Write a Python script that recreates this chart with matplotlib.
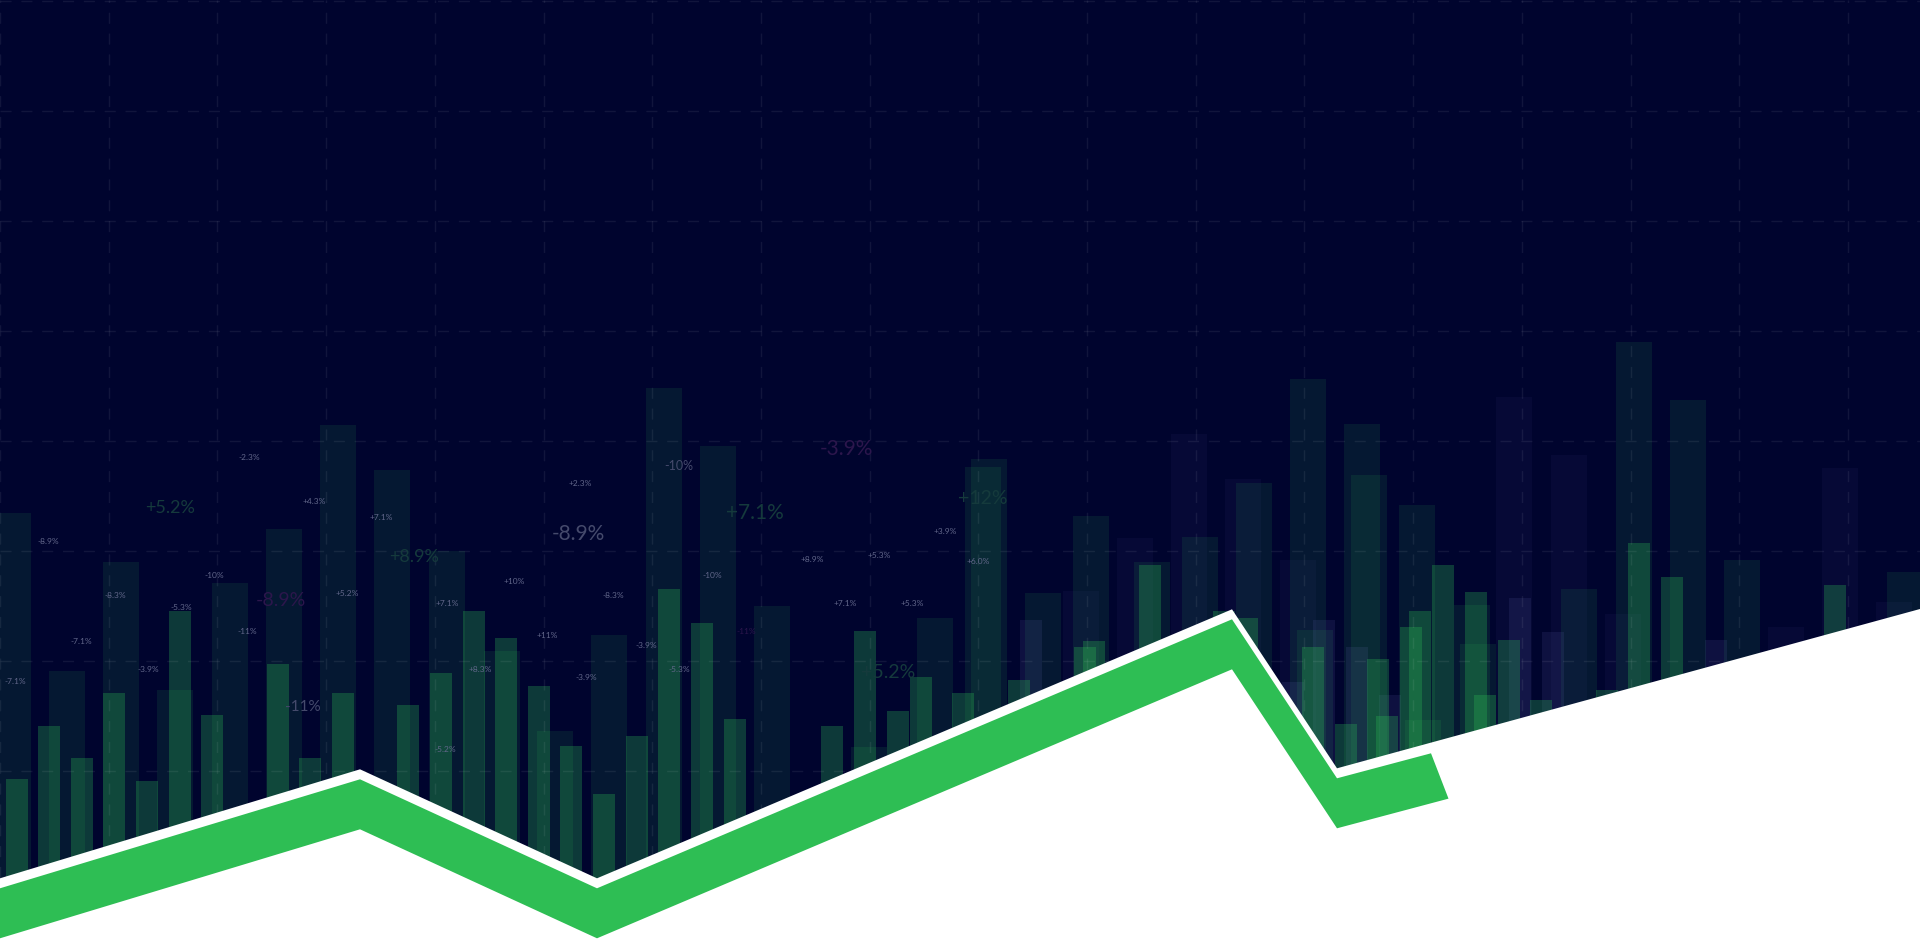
import numpy as np
import matplotlib
matplotlib.use("Agg")
import matplotlib.pyplot as plt
from matplotlib.patches import Polygon

# ---------------- data ----------------
# tall faint green bars (left edge, value)
teal_x = [-5, 49, 103, 157, 212, 266, 320, 374, 429, 484, 537, 591, 646, 700, 754,
          851, 917, 965, 971, 1025, 1073, 1134, 1182, 1236, 1290, 1297, 1344, 1351,
          1399, 1405, 1454, 1460, 1561, 1616, 1670, 1724, 1887]
teal_h = [427, 269, 378, 250, 357, 411, 515, 470, 389, 289, 209, 305, 552, 494, 334,
          193, 322, 473, 481, 347, 424, 378, 403, 457, 561, 310, 516, 465,
          435, 220, 335, 296, 351, 598, 540, 380, 368]

# brighter narrow green bars
green_x = [6, 38, 71, 103, 136, 169, 201, 267, 299, 332, 397, 430, 463, 495, 528, 560,
           593, 626, 658, 691, 724, 821, 854, 887, 910, 952, 1008, 1074, 1083, 1139,
           1213, 1236, 1302, 1335, 1367, 1376, 1400, 1409, 1432, 1465, 1474, 1498,
           1530, 1596, 1628, 1661, 1824]
green_h = [161, 214, 182, 247, 159, 329, 225, 276, 182, 247, 235, 267, 329, 302, 254, 194,
           146, 204, 351, 317, 221, 214, 309, 229, 263, 247, 260, 293, 299, 375,
           329, 322, 293, 216, 281, 224, 313, 329, 375, 348, 245, 300,
           240, 250, 397, 363, 355]

# wide faint purple bars
purple_x = [1063, 1117, 1171, 1225, 1280, 1496, 1551, 1605, 1768, 1822, 1876]
purple_h = [349, 402, 506, 461, 380, 543, 485, 326, 313, 472, 338]

# narrow lighter purple bars
lilac_x = [1020, 1282, 1313, 1346, 1379, 1509, 1542, 1705]
lilac_h = [320, 258, 320, 293, 245, 342, 308, 300]

# trend line (top edge of the green band)
line_x = [0, 360, 597, 1232, 1337, 1431]
line_y = [51.7, 160.7, 51.7, 320.7, 161.7, 186.7]
white_end_x = 1920
white_end_y = 331

# percentage labels
small_txt = ["-8.9%", "-2.3%", "+4.3%", "+7.1%", "-10%", "-8.3%", "-5.3%", "+5.2%", "+7.1%",
             "-7.1%", "-11%", "-7.1%", "-3.9%", "-5.2%", "+8.3%", "+2.3%", "+3.9%", "+8.9%",
             "+5.3%", "+10%", "-8.3%", "-10%", "+7.1%", "+5.3%", "+11%", "-3.9%", "-3.9%",
             "-5.3%", "+6.0%"]
small_x = [48, 249, 314, 381, 214, 115, 181, 347, 447, 81, 247, 15, 148, 445, 480, 580, 945,
           812, 879, 514, 613, 712, 845, 912, 547, 646, 586, 679, 978]
small_y = [399, 482, 438, 423, 365, 345, 332, 347, 337, 299, 308, 259, 270, 191, 270, 456,
           408, 380, 385, 359, 345, 365, 337, 336, 304, 294, 263, 270, 378]

gray_txt = ["-10%", "-8.9%", "-11%"]
gray_x = [679, 578, 303]
gray_y = [474, 406, 233]
gray_size = [9, 15, 11]

greenlab_txt = ["+5.2%", "+8.9%", "+7.1%", "+12%", "+5.2%"]
greenlab_x = [170, 414, 755, 983, 888]
greenlab_y = [432, 383, 427, 441, 267]
greenlab_size = [13, 13, 15, 14, 14]

purplab_txt = ["-8.9%", "-3.9%", "-11%"]
purplab_x = [281, 846, 746]
purplab_y = [340, 491, 308]
purplab_size = [14, 15, 6]

# ---------------- style ----------------
BG = "#00042e"
GREEN = "#2ebe54"
FONT = ["Lato", "DejaVu Sans"]
W_WIDE, W_NARROW = 36, 22
BAND, GAP, CAP_DX = 50, 10, 17.5

fig = plt.figure(figsize=(19.2, 9.4), dpi=100, facecolor=BG)
ax = fig.add_axes([0, 0, 1, 1])
ax.set_facecolor(BG)
ax.set_xlim(0, 1920)
ax.set_ylim(0, 940)
for s in ax.spines.values():
    s.set_visible(False)
ax.tick_params(length=0, labelbottom=False, labelleft=False)

# grid
ax.set_xticks(np.arange(0, 1921, 108.7))
ax.set_yticks(939 - 110 * np.arange(0, 9))
ax.set_axisbelow(False)
ax.grid(True, color="white", alpha=0.07, linewidth=1, linestyle=(0, (8, 7)))

# bars
ax.bar(np.array(purple_x) + W_WIDE / 2, purple_h, width=W_WIDE, color="#7070d0",
       alpha=0.055, linewidth=0, zorder=1)
ax.bar(np.array(teal_x) + W_WIDE / 2, teal_h, width=W_WIDE, color=GREEN,
       alpha=0.11, linewidth=0, zorder=1.1)
ax.bar(np.array(lilac_x) + W_NARROW / 2, lilac_h, width=W_NARROW, color="#8080d8",
       alpha=0.11, linewidth=0, zorder=1.2)
ax.bar(np.array(green_x) + W_NARROW / 2, green_h, width=W_NARROW, color=GREEN,
       alpha=0.29, linewidth=0, zorder=1.3)

# labels
for t, x, y in zip(small_txt, small_x, small_y):
    ax.text(x, y, t, ha="center", va="center", fontsize=6, color="#62678a",
            family=FONT, zorder=2.6)
for t, x, y, s in zip(gray_txt, gray_x, gray_y, gray_size):
    ax.text(x, y, t, ha="center", va="center", fontsize=s, color="#454a6c",
            family=FONT, zorder=2.6)
for t, x, y, s in zip(greenlab_txt, greenlab_x, greenlab_y, greenlab_size):
    ax.text(x, y, t, ha="center", va="center", fontsize=s, color="#153a3c",
            family=FONT, zorder=2.6)
for t, x, y, s in zip(purplab_txt, purplab_x, purplab_y, purplab_size):
    ax.text(x, y, t, ha="center", va="center", fontsize=s, color="#2c164c",
            family=FONT, zorder=2.6)

# white area under the trend
wx = list(line_x[:-1]) + [white_end_x]
wy = [v + GAP for v in line_y[:-1]] + [white_end_y]
ax.fill_between(wx, 0, wy, color="white", linewidth=0, zorder=3)

# green band
slope = (line_y[-1] - line_y[-2]) / (line_x[-1] - line_x[-2])
top = list(zip(line_x, line_y))
bottom = [(x, y - BAND) for x, y in zip(line_x, line_y)]
bottom[-1] = (line_x[-1] + CAP_DX, line_y[-1] - BAND + slope * CAP_DX)
poly = Polygon(top + bottom[::-1], closed=True, facecolor=GREEN, edgecolor="none", zorder=4)
ax.add_patch(poly)

fig.savefig("out.png", dpi=100, facecolor=BG)
